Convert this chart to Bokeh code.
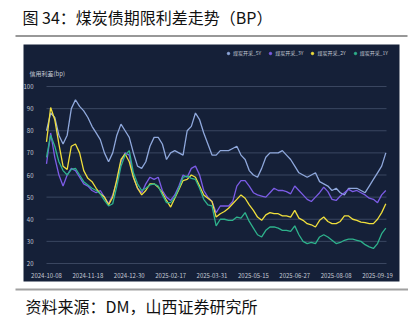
from bokeh.plotting import figure
from bokeh.models import BoxAnnotation, Label, Legend, LegendItem, FixedTicker, LinearAxis
from bokeh.embed import file_html
from bokeh.resources import INLINE

# ---------------- data ----------------
tick_labels = ["2024-10-08", "2024-11-18", "2024-12-30", "2025-02-17", "2025-03-31",
               "2025-05-15", "2025-06-27", "2025-08-08", "2025-09-19"]
tick_pos = [0, 30, 60, 90, 120, 150, 180, 210, 240]

# trading-day index of each sampled point
day_idx = list(range(0, 247, 3))

y_5y = [80, 88, 86, 78, 74, 78, 90, 94, 91, 89, 86, 82, 79, 76, 70, 66, 70, 78, 83, 80,
        77, 70, 64, 63, 66, 73, 77, 77, 74, 67, 70, 71, 70, 69, 80, 82, 88, 85, 79, 74,
        69, 69, 71, 71, 71, 72, 73, 69, 67, 62, 60, 59, 63, 68, 70, 70, 70, 71, 69, 67,
        64, 61, 60, 59, 60, 61, 57, 56, 55, 53, 54, 52, 51, 54, 54, 54, 53, 52, 55, 58,
        61, 64, 70]
y_3y = [65, 79, 68, 60, 55, 60, 63, 62, 59, 56, 55, 53, 52, 53, 50, 47, 51, 57, 66, 70,
        69, 59, 54, 52, 56, 59, 58, 59, 53, 50, 48.5, 51, 55, 60, 59, 63, 64, 60, 53, 50,
        48, 43, 46, 46, 46, 48, 55, 57.5, 57.5, 55, 52, 51, 50.5, 50, 52, 54, 53, 53, 52.5, 51.5,
        55, 53, 51, 49, 48, 50, 52, 54.5, 52.5, 49, 48.5, 50.5, 52, 53.5, 52.5, 53, 52, 51, 49.5, 49,
        47.5, 51, 53]
y_2y = [75, 90.5, 85, 74, 64, 62.5, 73, 74, 70, 62, 58.5, 57, 54, 51.5, 50, 46.5, 50, 58, 67, 69.5,
        66, 59, 54, 51, 53, 56, 56, 54.5, 52, 48.5, 45.5, 49.5, 53.5, 57.5, 58, 60, 59, 55, 51, 49.5,
        48, 41, 42.5, 43.5, 45, 47, 49, 51, 49.5, 46.5, 44, 41, 39.5, 42, 43, 42.5, 42.5, 41.5, 41.5, 41,
        44, 40.5, 39.5, 38, 37.5, 36.5, 39.5, 41, 39, 38, 38, 39, 41.5, 41.5, 40, 39.5, 38.7, 38.5, 38, 38,
        40, 43, 47]
y_1y = [68, 78, 73, 66, 62, 60, 62.5, 63, 60, 57, 55.5, 54, 53, 51.5, 48.5, 46, 47, 55, 64, 69,
        71, 61, 56, 53, 54, 55.5, 56, 55, 51, 47.5, 47.5, 50, 54, 59, 59.5, 58.5, 58, 54, 49, 46.5,
        46, 37, 40, 40, 39.5, 39.5, 41, 40.5, 43, 39, 36, 33, 32, 35, 36.5, 36.5, 36, 35, 35, 34.5,
        37, 33, 30, 29, 29.5, 29, 32, 33, 32, 30.5, 29, 29.5, 30.5, 31, 31, 30.5, 30, 28.5, 27.5, 26.8,
        29, 33.5, 36]

series_names = ["煤炭开采_5Y", "煤炭开采_3Y", "煤炭开采_2Y", "煤炭开采_1Y"]
series_vals = [y_5y, y_3y, y_2y, y_1y]
series_colors = ["#8fa8dc", "#7c5ce6", "#f0df3c", "#2eb28c"]
y_ticks = [20, 30, 40, 50, 60, 70, 80, 90, 100]

# ---------------- layout (pixels) ----------------
W, H = 408, 325
PLOT_L, PLOT_R = 46, 386      # pixel x of first / last category
PLOT_T, PLOT_B = 86, 263      # pixel y of 100 / 20
X0, X1 = 0, 246.5
Y0, Y1 = 20, 100
sx = (PLOT_R - PLOT_L) / (X1 - X0)
sy = (PLOT_B - PLOT_T) / (Y1 - Y0)
x_range = (X0 - PLOT_L / sx, X1 + (W - PLOT_R) / sx)
y_range = (Y0 - (H - PLOT_B) / sy, Y1 + PLOT_T / sy)

BG = "#152038"
GRID = "#3a4660"
TXT = "#c3c9d4"
FONT = "Noto Sans CJK SC"

p = figure(width=W, height=H, output_backend="svg", toolbar_location=None,
           x_range=x_range, y_range=y_range,
           x_axis_location=None, y_axis_location=None,
           min_border=0, min_border_left=0, min_border_right=0,
           min_border_top=0, min_border_bottom=0)
p.border_fill_color = "white"
p.background_fill_color = "white"
p.outline_line_color = None
p.xgrid.visible = False
p.ygrid.visible = False

# dark panel behind chart
panel = BoxAnnotation(left=23, right=399, top=44, bottom=281,
                      left_units="canvas", right_units="canvas",
                      top_units="canvas", bottom_units="canvas",
                      fill_color=BG, fill_alpha=1, line_alpha=0, level="underlay")
p.center = [panel] + list(p.center)

# rule lines (title underline, footer line)
p.add_layout(BoxAnnotation(left=15, right=407, top=35, bottom=36,
                           left_units="canvas", right_units="canvas",
                           top_units="canvas", bottom_units="canvas",
                           fill_color="#333333", fill_alpha=1, line_alpha=0))
p.add_layout(BoxAnnotation(left=15, right=408, top=288, bottom=290,
                           left_units="canvas", right_units="canvas",
                           top_units="canvas", bottom_units="canvas",
                           fill_color="#a0a0a0", fill_alpha=1, line_alpha=0))

# horizontal grid lines over the plotting span
p.segment(x0=[X0] * len(y_ticks), x1=[X1] * len(y_ticks), y0=y_ticks, y1=y_ticks,
          line_color=GRID, line_width=1)

# axes drawn inside the frame
yax = LinearAxis(fixed_location=X0, ticker=FixedTicker(ticks=y_ticks))
xax = LinearAxis(fixed_location=Y0, ticker=FixedTicker(ticks=tick_pos))
xax.major_label_overrides = {pos: lab for pos, lab in zip(tick_pos, tick_labels)}
for ax in (xax, yax):
    ax.axis_line_color = None
    ax.major_tick_line_color = None
    ax.minor_tick_line_color = None
    ax.major_label_text_color = TXT
    ax.major_label_text_font = FONT
    ax.major_label_text_font_size = "6px"
yax.major_label_standoff = 7
xax.major_label_standoff = 3
p.add_layout(yax, "left")
p.add_layout(xax, "below")

# lines
items = []
for name, vals, col in zip(series_names, series_vals, series_colors):
    p.line(day_idx, vals, line_color=col, line_width=1.3)
    # legend-only marker (no visible point in the plot)
    r = p.scatter(x=[X0], y=[float("nan")], marker="circle", size=6,
                  fill_color=col, line_color=col)
    items.append(LegendItem(label=name, renderers=[r], index=0))

legend = Legend(items=items, orientation="horizontal", location=(225, 269),
                background_fill_alpha=0, border_line_alpha=0,
                label_text_color=TXT, label_text_font=FONT, label_text_font_size="5px",
                glyph_width=6, glyph_height=6, spacing=6, label_standoff=2,
                padding=0, margin=0, label_height=6)
p.add_layout(legend)

# texts
p.add_layout(Label(x=29, y=73, x_units="canvas", y_units="canvas", text="信用利差(bp)",
                   text_color=TXT, text_font=FONT, text_font_size="6px",
                   text_baseline="middle", text_align="left"))
p.add_layout(Label(x=22, y=16, x_units="canvas", y_units="canvas",
                   text="图 34：煤炭债期限利差走势（BP）",
                   text_color="#111111", text_font=FONT, text_font_size="16px",
                   text_baseline="middle", text_align="left"))
p.add_layout(Label(x=25, y=305, x_units="canvas", y_units="canvas",
                   text="资料来源：DM，山西证券研究所",
                   text_color="#111111", text_font=FONT, text_font_size="16px",
                   text_baseline="middle", text_align="left"))

open("out.html", "w").write(file_html(p, INLINE))
